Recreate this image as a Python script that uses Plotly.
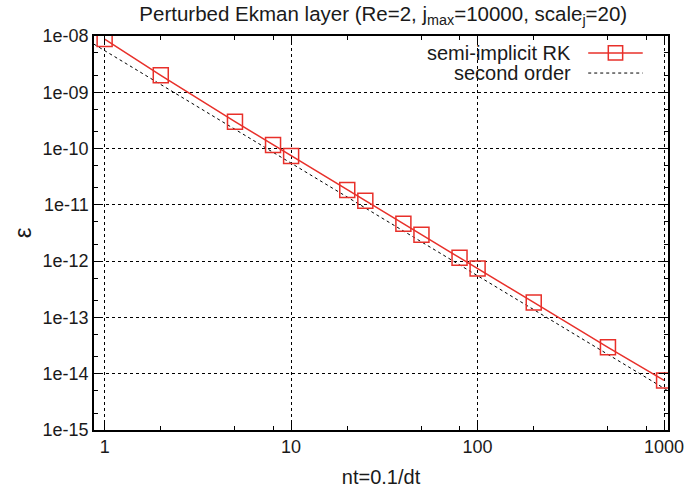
import plotly.graph_objects as go

nt = [1, 2, 5, 8, 10, 20, 25, 40, 50, 80, 100, 200, 500, 1000]
err_rk = [8.8e-9, 2.0e-9, 3.0e-10, 1.16e-10, 7.4e-11, 1.84e-11, 1.18e-11,
          4.6e-12, 2.95e-12, 1.15e-12, 7.4e-13, 1.85e-13, 2.95e-14, 7.6e-15]
second_x = [0.877, 1050]
second_y = [7.15e-9, 4.99e-15]

xtick_vals = [1, 10, 100, 1000]
xtick_text = ["1", "10", "100", "1000"]
xminor_vals = [2, 5, 8, 20, 50, 80, 200, 500, 800]
ytick_vals = [1e-8, 1e-9, 1e-10, 1e-11, 1e-12, 1e-13, 1e-14, 1e-15]
ytick_text = ["1e-08", "1e-09", "1e-10", "1e-11", "1e-12", "1e-13", "1e-14", "1e-15"]
yminor_vals = [m * 10.0 ** e for e in range(-15, -8) for m in (2, 5)]

XR = [-0.057, 3.021]
YR = [-15, -8]

RED = "#e8302a"
FONT = "Liberation Sans, Arial, sans-serif"
TXT = "#1a1a1a"

fig = go.Figure()
fig.add_trace(go.Scatter(x=second_x, y=second_y, mode="lines",
                         line=dict(color="black", width=1, dash="3px,3px"),
                         name="second order", showlegend=False, hoverinfo="skip"))
fig.add_trace(go.Scatter(x=nt, y=err_rk, mode="lines+markers",
                         line=dict(color=RED, width=1.5),
                         marker=dict(symbol="square-open", size=15, color=RED,
                                     line=dict(width=1.5, color=RED)),
                         name="semi-implicit RK", showlegend=False))
# invisible trace to hold the minor-tick overlay axes
fig.add_trace(go.Scatter(x=[nt[0]], y=[err_rk[0]], xaxis="x2", yaxis="y2", mode="markers",
                         marker=dict(opacity=0), showlegend=False, hoverinfo="skip"))

axis_common = dict(type="log", showline=True, linecolor="black", linewidth=1.5,
                   mirror="ticks", ticks="inside", ticklen=9, tickcolor="black", tickwidth=1,
                   showgrid=True, gridcolor="black", gridwidth=1, griddash="3px,3px",
                   zeroline=False, automargin=False, ticklabeloverflow="allow",
                   tickfont=dict(family=FONT, size=18, color=TXT))

fig.update_layout(
    template="none",
    width=684, height=495,
    margin=dict(l=94, r=16, t=36, b=65),
    paper_bgcolor="white", plot_bgcolor="white",
    showlegend=False,
    xaxis=dict(**axis_common, range=XR, tickvals=xtick_vals, ticktext=xtick_text,
               title=dict(text="nt=0.1/dt", font=dict(family=FONT, size=20, color=TXT), standoff=14)),
    yaxis=dict(**axis_common, range=YR, tickvals=ytick_vals, ticktext=ytick_text,
               title=dict(text="ε", font=dict(family=FONT, size=24, color=TXT), standoff=4)),
    xaxis2=dict(type="log", overlaying="x", range=XR, tickvals=xminor_vals, showticklabels=False,
                ticks="inside", ticklen=4, tickcolor="black", mirror="ticks", showline=False,
                showgrid=False, zeroline=False, automargin=False, anchor="y2", side="bottom"),
    yaxis2=dict(type="log", overlaying="y", range=YR, tickvals=yminor_vals, showticklabels=False,
                ticks="inside", ticklen=4, tickcolor="black", mirror="ticks", showline=False,
                showgrid=False, zeroline=False, automargin=False, anchor="x2", side="left"),
    title=dict(text="Perturbed Ekman layer (Re=2, j<sub>max</sub>=10000, scale<sub>j</sub>=20)",
               x=0.504, xref="paper", xanchor="center", y=0.972, yanchor="middle",
               font=dict(family=FONT, size=20.5, color=TXT)),
)

# gnuplot-style key: text right-aligned, sample to the right
fig.add_annotation(xref="paper", yref="paper", x=0.835, y=0.957, text="semi-implicit RK",
                   showarrow=False, xanchor="right", yanchor="middle",
                   font=dict(family=FONT, size=20, color=TXT))
fig.add_annotation(xref="paper", yref="paper", x=0.835, y=0.906, text="second order",
                   showarrow=False, xanchor="right", yanchor="middle",
                   font=dict(family=FONT, size=20, color=TXT))
fig.add_shape(type="line", xref="paper", yref="paper", x0=0.861, x1=0.956, y0=0.957, y1=0.957,
              line=dict(color=RED, width=1.5))
fig.add_shape(type="rect", xref="paper", yref="paper", x0=0.896, x1=0.921, y0=0.939, y1=0.975,
              line=dict(color=RED, width=1.5), fillcolor="rgba(0,0,0,0)")
fig.add_shape(type="line", xref="paper", yref="paper", x0=0.861, x1=0.956, y0=0.906, y1=0.906,
              line=dict(color="black", width=1, dash="3px,3px"))

# drop the browser's default 8px body margin so the figure sits at the window origin
fig.write_html("out.html", config={"displayModeBar": False},
               post_script="document.body.style.margin='0';document.body.style.overflow='hidden';")
